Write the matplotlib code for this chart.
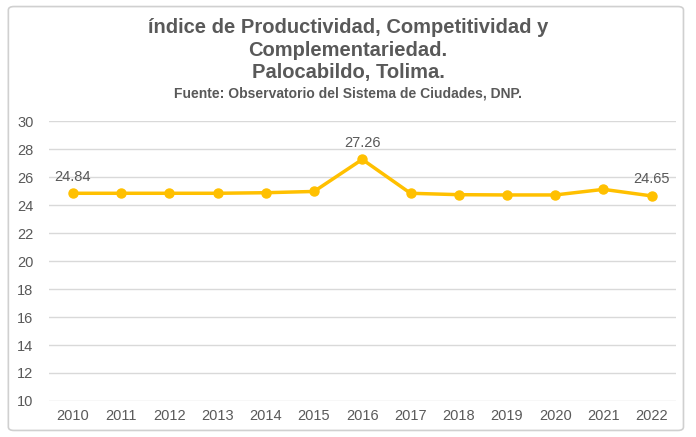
import matplotlib.pyplot as plt
from matplotlib.patches import FancyBboxPatch

plt.rcParams['font.family'] = ['Liberation Sans', 'DejaVu Sans']

# Datos
years = ["2010", "2011", "2012", "2013", "2014", "2015", "2016",
         "2017", "2018", "2019", "2020", "2021", "2022"]
values = [24.84, 24.84, 24.84, 24.84, 24.88, 24.97, 27.26,
          24.84, 24.74, 24.72, 24.72, 25.12, 24.65]
labeled = [0, 6, 12]
yticks = list(range(10, 31, 2))

gray = "#595959"

fig = plt.figure(figsize=(6.96, 4.37), dpi=100)
ax = fig.add_axes([0.070, 0.0824, 0.901, 0.6406])

# marco exterior
frame = FancyBboxPatch((0.012, 0.015), 0.970, 0.970,
                       boxstyle="round,pad=0,rounding_size=0.008",
                       transform=fig.transFigure, facecolor="white",
                       edgecolor="#d0d0d0", linewidth=1.2, zorder=-10)
fig.patches.append(frame)

x = list(range(len(years)))
ax.plot(x, values, color="#FFC000", linewidth=2.5, marker="o",
        markersize=6.5, zorder=3)

for i in labeled:
    ax.annotate(f"{values[i]:.2f}", (x[i], values[i]), xytext=(0, 7),
                textcoords="offset points", ha="center", va="bottom",
                fontsize=10.5, color=gray)

ax.set_xlim(-0.5, len(years) - 0.5)
ax.set_ylim(10, 30)
ax.set_yticks(yticks)
ax.set_xticks(x)
ax.set_xticklabels(years)
ax.tick_params(axis="both", length=0, labelsize=10.5, colors=gray)
ax.tick_params(axis="x", pad=6)
ax.tick_params(axis="y", pad=11)
ax.grid(axis="y", color="#d9d9d9", linewidth=1)
ax.set_axisbelow(True)
for s in ax.spines.values():
    s.set_visible(False)
ax.patch.set_alpha(0)

fig.text(0.5, 0.936, "índice de Productividad, Competitividad y",
         ha="center", va="center", fontsize=14.5, fontweight="bold", color=gray)
fig.text(0.5, 0.885, "Complementariedad.",
         ha="center", va="center", fontsize=14.5, fontweight="bold", color=gray)
fig.text(0.5, 0.834, "Palocabildo, Tolima.",
         ha="center", va="center", fontsize=14.5, fontweight="bold", color=gray)
fig.text(0.5, 0.785, "Fuente: Observatorio del Sistema de Ciudades, DNP.",
         ha="center", va="center", fontsize=10, fontweight="bold", color=gray)

fig.savefig("out.png", dpi=100)
